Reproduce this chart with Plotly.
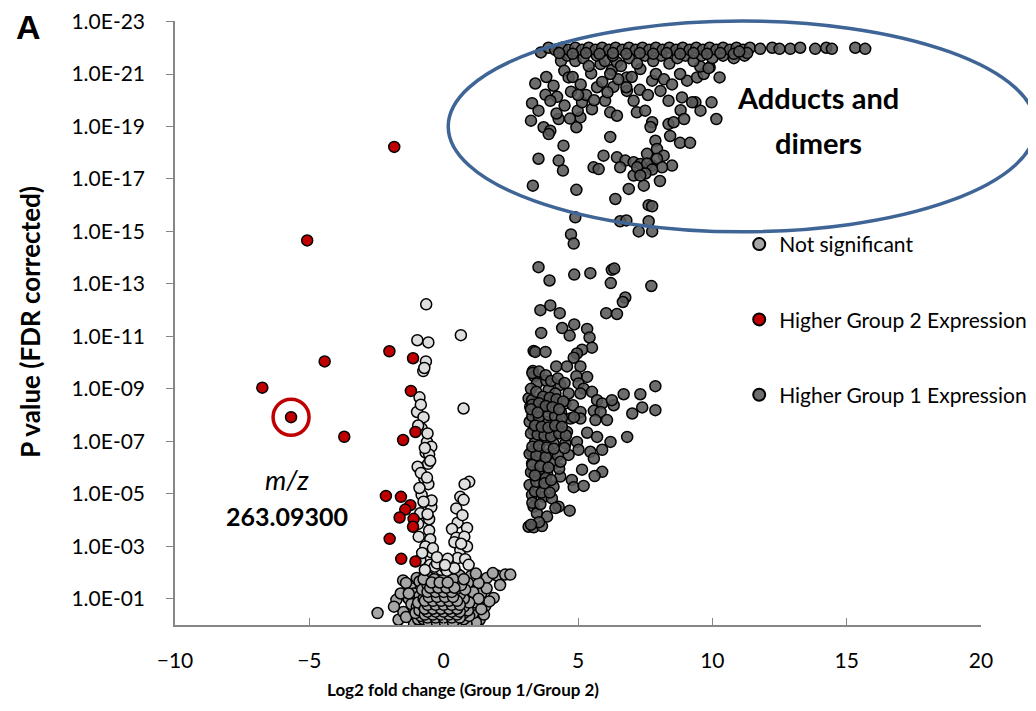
import plotly.graph_objects as go

# ---------------- data ----------------
# Higher Group 2 Expression (red)
red_x = [-1.84, -5.08, -6.75, -4.43, -5.68, -3.70, -2.15, -2.01, -2.02, -1.14, -1.22,
         -1.05, -1.51, -1.59, -1.24, -1.43, -1.64, -1.12, -1.14, -1.58, -1.05]
red_p = [6e-19, 2.2e-15, 9e-10, 9e-11, 1.2e-8, 6.7e-8, 1.2e-5, 5.2e-4, 3.7e-11, 6.8e-11, 1.2e-9,
         4.4e-8, 8.9e-8, 1.3e-5, 2.7e-5, 4e-5, 8e-5, 9e-5, 1.8e-4, 3e-3, 3.8e-3]

# Not significant, p < 0.01 (light)
light_x = [-0.65, 0.64, -0.98, -0.57, -0.66, -0.76, -0.90, 0.74, -0.99, -0.75, -0.82, -0.62,
           -0.46, -0.67, -0.54, -0.58, -0.97, -0.72, -0.57, -0.82, 0.95, 0.78, 0.62, 0.74,
           0.47, -0.46, -0.87, -0.54, 0.52, 0.87, 0.31, -0.54, 0.47, 0.77, -0.50, -0.93,
           -0.68, 0.62, 0.87, -0.46, -0.13, 0.25, 0.52, 0.80, -0.87, -0.50, -0.09, 0.25,
           0.93, -0.33, 0.05, -0.25, 0.12, -0.70, 0.40,
           -0.72, -0.85, -0.95, -0.60, -0.70, -0.50, -0.85, -0.62, -0.90, -0.45, -0.75, -0.60,
           -0.95, -0.40, -0.80, 0.70, 0.40, 0.65, 0.15, -0.25, 0.05]
light_p = [6e-13, 9e-12, 1.4e-11, 1.7e-11, 9e-11, 2.1e-10, 2.1e-9, 5.6e-9, 7.6e-9, 1.2e-8,
           3.2e-8, 1.05e-7, 1.6e-7, 2.7e-7, 3.2e-7, 7.2e-7, 9.3e-7, 2.6e-6, 4.3e-6, 1.1e-5,
           3.5e-6, 4.3e-6, 1.3e-5, 1.7e-5, 3.6e-5, 3.2e-5, 5.5e-5, 9.3e-5, 1.26e-4, 2e-4,
           2.2e-4, 2.5e-4, 4.7e-4, 4.3e-4, 5.4e-4, 4.3e-4, 1.02e-3, 1.4e-3, 1.02e-3, 1.7e-3,
           3.8e-3, 4.2e-3, 2.8e-3, 3.1e-3, 3.3e-3, 5.1e-3, 7.9e-3, 7.4e-3, 5.1e-3, 6e-3,
           6.5e-3, 4.5e-3, 8.5e-3, 8e-3, 6.8e-3,
           1.6e-10, 4e-9, 2.5e-8, 5e-8, 1.8e-7, 5.5e-7, 1.6e-6, 2.4e-6, 6e-6, 1.8e-5, 2e-5, 6e-5,
           1.4e-4, 1.2e-3, 1.8e-3, 6.5e-5, 7e-4, 8e-4, 3e-3, 2.6e-3, 5.2e-3]

# Not significant, p > 0.01 (grey)
grey_x = [1.61, 1.98, 2.29, 2.48, 1.83, -1.51, -1.76, -2.46, -1.68, -1.33, 1.86, 1.55, 1.34,
          -1.2, -1.0, -0.8, -0.6, -0.4, -0.2, 0.0, 0.2, 0.4, 0.6, 0.8, 1.0, 1.2,
          -1.1, -0.9, -0.7, -0.5, -0.3, -0.1, 0.1, 0.3, 0.5, 0.7, 0.9, 1.1, 1.3,
          -1.3, -1.0, -0.8, -0.6, -0.4, -0.2, 0.0, 0.2, 0.4, 0.6, 0.8, 1.0, 1.4, 1.6,
          -1.2, -0.9, -0.7, -0.5, -0.3, -0.1, 0.1, 0.3, 0.5, 0.7, 0.9, 1.1, 1.3,
          -1.0, -0.8, -0.6, -0.4, -0.2, 0.0, 0.2, 0.4, 0.6, 0.8, 1.0, 1.2,
          -0.7, -0.5, -0.3, -0.1, 0.1, 0.3, 0.5,
          -1.5, -1.4, 1.5, 1.7, -1.6, -0.9, -0.5, 0.3, 0.9, 2.1, 1.2, -1.85,
          -1.1, -0.9, -0.7, -0.5, -0.3, -0.1, 0.1, 0.3, 0.5, 0.7, 0.9, 1.1,
          -1.2, -1.0, -0.8, -0.6, -0.4, -0.2, 0.0, 0.2, 0.4, 0.6, 0.8, 1.0, 1.2,
          -1.1, -0.9, -0.7, -0.5, -0.3, -0.1, 0.1, 0.3, 0.5, 0.7, 0.9, 1.1,
          -0.9, -0.7, -0.5, -0.3, -0.1, 0.1, 0.3, 0.5, 0.7, 0.9,
          -0.6, -0.4, -0.2, 0.0, 0.2, 0.4, 0.6,
          -1.4, 1.4, -1.3, 1.3, -0.05, 0.45, -0.45, 0.85, -0.85,
          -0.65, -0.35, -0.05, 0.25, 0.55,
          -0.95, -0.75, -0.45, -0.15, 0.15, 0.45, 0.75,
          -0.85, -0.55, -0.25, 0.05, 0.35, 0.65, 0.95,
          -1.05, -0.75, -0.45, -0.15, 0.15, 0.45, 0.75,
          -0.9, -0.6, -0.3, 0.0, 0.3, 0.6, 0.9,
          -0.75, -0.45, -0.15, 0.15, 0.45, 0.75,
          -0.95, -0.6, -0.3, 0.0, 0.3, 0.6, 0.95,
          -0.75, -0.45, -0.15, 0.15, 0.45, 0.75,
          -0.6, -0.3, 0.0, 0.3, 0.6,
          -0.8, -0.45, -0.15, 0.15, 0.45, 0.8,
          -0.6, -0.25, 0.05, 0.35, 0.65,
          -0.75, -0.35, 0.0, 0.35, 0.75,
          -0.55, -0.25, 0.05, 0.35,
          -0.6, -0.3, 0.0, 0.3, 0.6,
          -0.7, -0.4, -0.1, 0.2, 0.5,
          -0.6, -0.3, 0.0, 0.3, 0.6,
          -0.7, -0.4, -0.1, 0.2, 0.5,
          -0.6, -0.3, 0.0, 0.3, 0.6,
          -0.7, -0.4, -0.1, 0.2, 0.5,
          -0.55, -0.25, 0.05, 0.35,
          -0.6, -0.3, 0.0, 0.3,
          -0.5, -0.2, 0.1, 0.4,
          -0.45, -0.15, 0.15]
grey_p = [0.016, 0.013, 0.012, 0.012, 0.0105, 0.02, 0.11, 0.35, 0.63, 0.093, 0.093, 0.19, 0.63,
          0.5, 0.8, 0.89, 0.95, 0.89, 0.93, 0.95, 0.91, 0.93, 0.87, 0.8, 0.71, 0.5,
          0.25, 0.4, 0.5, 0.56, 0.63, 0.71, 0.63, 0.56, 0.5, 0.45, 0.32, 0.25, 0.16,
          0.1, 0.126, 0.2, 0.25, 0.32, 0.35, 0.4, 0.32, 0.25, 0.2, 0.16, 0.126, 0.063, 0.04,
          0.04, 0.05, 0.079, 0.1, 0.126, 0.16, 0.14, 0.1, 0.079, 0.063, 0.05, 0.032, 0.025,
          0.016, 0.025, 0.032, 0.04, 0.05, 0.063, 0.045, 0.032, 0.022, 0.018, 0.014, 0.011,
          0.0126, 0.016, 0.02, 0.025, 0.02, 0.014, 0.011,
          0.32, 0.025, 0.4, 0.126, 0.063, 0.76, 0.79, 0.79, 0.63, 0.03, 0.8, 0.2,
          0.9, 0.7, 0.63, 0.71, 0.79, 0.85, 0.89, 0.71, 0.63, 0.56, 0.45, 0.35,
          0.16, 0.2, 0.28, 0.4, 0.45, 0.5, 0.56, 0.45, 0.4, 0.32, 0.25, 0.2, 0.14,
          0.063, 0.079, 0.126, 0.16, 0.22, 0.25, 0.28, 0.2, 0.16, 0.1, 0.079, 0.056,
          0.022, 0.032, 0.05, 0.063, 0.079, 0.1, 0.063, 0.045, 0.032, 0.025,
          0.014, 0.02, 0.028, 0.032, 0.025, 0.018, 0.013,
          0.5, 0.25, 0.063, 0.1, 0.95, 0.95, 0.97, 0.9, 0.95,
          0.7, 0.7, 0.7, 0.7, 0.7,
          0.6, 0.6, 0.6, 0.6, 0.6, 0.6, 0.6,
          0.45, 0.45, 0.45, 0.45, 0.45, 0.45, 0.45,
          0.35, 0.35, 0.35, 0.35, 0.35, 0.35, 0.35,
          0.28, 0.28, 0.28, 0.28, 0.28, 0.28, 0.28,
          0.2, 0.2, 0.2, 0.2, 0.2, 0.2,
          0.14, 0.14, 0.14, 0.14, 0.14, 0.14, 0.14,
          0.1, 0.1, 0.1, 0.1, 0.1, 0.1,
          0.07, 0.07, 0.07, 0.07, 0.07,
          0.045, 0.045, 0.045, 0.045, 0.045, 0.045,
          0.03, 0.03, 0.03, 0.03, 0.03,
          0.018, 0.018, 0.018, 0.018, 0.018,
          0.8, 0.8, 0.8, 0.8,
          0.52, 0.52, 0.52, 0.52, 0.52,
          0.4, 0.4, 0.4, 0.4, 0.4,
          0.31, 0.31, 0.31, 0.31, 0.31,
          0.24, 0.24, 0.24, 0.24, 0.24,
          0.17, 0.17, 0.17, 0.17, 0.17,
          0.12, 0.12, 0.12, 0.12, 0.12,
          0.085, 0.085, 0.085, 0.085,
          0.055, 0.055, 0.055, 0.055,
          0.038, 0.038, 0.038, 0.038,
          0.024, 0.024, 0.024]

# Higher Group 1 Expression (dark)
dark_x = [
    # lower column
    3.53, 3.94, 4.86, 5.46, 6.26, 6.35, 6.22, 7.73, 6.76, 6.67, 6.05, 6.45, 3.60, 3.97, 4.32,
    3.63, 4.41, 4.69, 4.86, 5.34, 5.43, 5.52, 3.35, 3.41, 3.79, 5.15, 4.96, 4.84, 4.19, 4.59,
    5.09, 3.32, 3.37, 5.34, 4.94, 3.47, 3.82, 4.34, 5.02, 5.21, 3.91, 4.16, 4.65, 5.09, 5.52,
    6.70, 7.32, 7.88, 3.16, 3.29, 3.66, 4.09, 4.53, 4.81, 5.71, 5.90, 6.33, 6.26, 3.22, 3.60,
    3.97, 4.37, 5.09, 5.59, 5.84, 7.02, 7.39, 7.88, 3.20, 3.47, 3.85, 4.28, 4.72, 5.09, 5.65,
    6.08, 3.35, 3.79, 4.16, 4.59, 5.34, 5.71, 6.83, 6.21, 3.41, 3.72, 4.09, 4.53, 4.96, 3.29,
    3.60, 3.97, 4.65, 5.02, 5.46, 5.90, 5.59, 3.29, 3.66, 4.09, 5.15, 5.90, 5.62, 3.35, 3.85,
    4.34, 4.77, 3.20, 3.72, 4.09, 4.84, 5.21, 3.29, 3.72, 4.03, 4.28, 3.35, 3.47, 4.16, 4.69,
    3.16, 3.35, 3.66, 3.85,
    3.25, 3.45, 3.70, 3.95, 4.20, 4.45, 3.30, 3.55, 3.90, 4.15, 4.40, 4.85, 3.25, 3.50, 3.75,
    4.00, 4.30, 4.55, 3.20, 3.45, 3.80, 4.25, 4.50, 3.25, 3.55, 3.80, 4.30, 3.40, 3.65, 3.95,
    3.30, 3.60, 3.55, 3.25,
    3.30, 3.55, 3.80, 4.05, 4.30, 3.40, 3.65, 3.90, 4.15, 4.40, 3.30, 3.55, 3.85, 4.10, 4.35,
    3.30, 3.60, 3.90, 3.45, 3.75, 4.00, 3.40, 3.25, 3.50, 3.30, 3.55, 3.80, 4.00, 4.25, 4.50,
    # upper cluster
    3.62, 4.37, 4.49, 4.65, 3.82, 3.41, 4.09, 4.74, 3.79, 4.22, 3.97, 3.29, 3.53, 3.25, 4.28,
    3.72, 3.97, 3.91, 4.94, 5.09, 4.99, 5.15, 5.52, 5.71, 5.49, 5.84, 6.26, 6.45, 6.01, 6.20,
    6.45, 6.32, 6.82, 7.07, 7.19, 7.50, 6.82, 7.32, 7.76, 8.07, 8.37, 8.87, 9.37, 9.56, 8.37,
    8.56, 10.15, 9.90, 9.06, 9.43, 9.68, 6.20, 5.95, 4.46, 4.28, 4.44, 3.53, 5.58, 5.77, 6.45,
    6.76, 6.57, 7.07, 7.32, 7.57, 7.88, 7.94, 8.19, 8.50, 7.76, 7.07, 3.32, 4.94, 6.39, 6.89,
    7.45, 8.05, 7.63, 7.63, 6.57, 6.80, 4.90, 4.74, 4.84,
    9.55, 9.86, 10.27, 9.97, 9.25, 8.82, 8.95, 7.76, 7.70, 8.43, 8.80, 9.17, 7.94, 7.57, 7.20,
    8.13, 7.76, 7.51, 7.76, 7.76, 7.32, 7.26,
    # dense upper band
    4.6, 4.9, 5.2, 5.4, 5.7, 6.0, 6.3, 6.6, 6.9, 7.2, 7.5, 7.8, 8.1, 8.4, 8.7, 9.0, 9.3, 9.6,
    10.0, 10.4, 10.8, 11.2,
    4.8, 5.1, 5.3, 5.6, 5.9, 6.1, 6.5, 6.8, 7.0, 7.3, 7.6, 7.9, 8.2, 8.5, 8.8, 6.2, 5.0, 4.5,
    4.2, 4.7,
    # top row
    3.9, 4.15, 4.4, 4.65, 4.9, 5.15, 5.4, 5.65, 5.9, 6.15, 6.4, 6.65, 6.9, 7.15, 7.4, 7.65,
    7.9, 8.15, 8.4, 8.65, 8.9, 9.15, 9.4, 9.65, 9.9, 10.15, 10.4, 10.65, 10.9, 11.15, 11.4,
    11.78, 12.23, 12.9, 13.27, 13.83, 14.24, 14.45, 15.32, 15.69, 12.5,
    4.3, 4.8, 5.3, 5.8, 6.3, 6.8, 7.3, 7.8, 8.3, 8.8, 9.3, 9.8, 10.3, 10.8, 11.3, 11.0,
]
dark_p = [
    # lower column
    2.3e-14, 7.4e-14, 4.4e-14, 3.9e-14, 2.9e-14, 2.6e-14, 9.3e-14, 1.2e-13, 3.3e-13, 4.9e-13,
    1.3e-12, 1.4e-12, 1e-12, 6.6e-13, 1.3e-12, 7.4e-12, 4.8e-12, 9.3e-12, 3.5e-12, 5.2e-12,
    1.1e-11, 2.7e-11, 3.6e-11, 3.9e-11, 3.9e-11, 3.2e-11, 4.5e-11, 6.5e-11, 1.4e-10, 1.4e-10,
    1.4e-10, 2.1e-10, 3.3e-10, 3.5e-10, 3.3e-10, 6.2e-10, 4.9e-10, 7.1e-10, 6.2e-10, 9.8e-10,
    1.1e-9, 1.5e-9, 1.5e-9, 1.5e-9, 1.3e-9, 1.6e-9, 1.6e-9, 7.9e-10, 2.3e-9, 2.7e-9, 2.7e-9,
    3.2e-9, 3.6e-9, 4.2e-9, 2.7e-9, 3.6e-9, 4.2e-9, 2.7e-9, 4.8e-9, 6e-9, 5.6e-9, 8.1e-9,
    7.6e-9, 6.9e-9, 7.6e-9, 8.7e-9, 5.1e-9, 6.5e-9, 1.8e-8, 2.1e-8, 1.8e-8, 2.1e-8, 1.35e-8,
    1.35e-8, 1.55e-8, 1.55e-8, 3.7e-8, 4.4e-8, 4.7e-8, 4.4e-8, 4.7e-8, 6.8e-8, 6.8e-8, 1.05e-7,
    1.05e-7, 8.9e-8, 1.2e-7, 1.2e-7, 1.05e-7, 2.5e-7, 2.9e-7, 2.9e-7, 3.3e-7, 2.1e-7, 2.5e-7,
    2.1e-7, 4.5e-7, 6.9e-7, 6.9e-7, 6.9e-7, 1.2e-6, 1.45e-6, 2.1e-6, 1.45e-6, 1.66e-6, 2.2e-6,
    2.95e-6, 4.6e-6, 4e-6, 5.4e-6, 5.6e-6, 5e-6, 1.1e-5, 1.3e-5, 1.5e-5, 3.1e-5, 3.1e-5,
    5.5e-5, 3.5e-5, 4.4e-5, 1.8e-4, 1.9e-4, 1.7e-4, 7.4e-5,
    1e-9, 1.3e-9, 2e-9, 2.2e-9, 2.5e-9, 3e-9, 1.1e-8, 1.2e-8, 1e-8, 1.1e-8, 1.3e-8, 1.2e-8,
    5e-8, 5.5e-8, 6e-8, 6.5e-8, 5e-8, 6e-8, 3e-7, 3.5e-7, 4e-7, 3.5e-7, 1.8e-7, 1.5e-6,
    1.8e-6, 2.5e-6, 1.1e-6, 8e-6, 9e-6, 9e-6, 2.2e-5, 2.5e-5, 1.2e-4, 1.5e-4,
    4e-9, 3.5e-9, 4.5e-9, 5e-9, 6e-9, 2.5e-8, 2.8e-8, 3e-8, 2.5e-8, 2.8e-8, 1.6e-7, 1.5e-7,
    1.7e-7, 1.9e-7, 6e-7, 8e-7, 9e-7, 1e-6, 3.5e-6, 4e-6, 3e-6, 2e-6, 6e-9, 8e-9, 2.5e-10,
    2.2e-10, 3e-10, 5e-10, 4e-10, 6e-10,
    # upper cluster
    1.5e-22, 3.2e-22, 7.6e-22, 1.35e-21, 1.3e-21, 2.3e-21, 2.8e-21, 4.7e-21, 6.2e-21, 7.4e-21,
    1.05e-20, 1.3e-20, 2.5e-20, 6e-20, 5.2e-20, 1.07e-19, 1.45e-19, 1.95e-19, 1.07e-19, 4.5e-20,
    2.5e-20, 1.2e-20, 2.2e-20, 3.2e-21, 9.5e-22, 4.2e-22, 7.1e-22, 3.6e-22, 1.05e-20, 2.9e-20,
    3.9e-20, 3.1e-21, 4.4e-21, 1.05e-20, 2.9e-20, 2.5e-20, 1.35e-21, 6.5e-22, 1.8e-21, 4.4e-21,
    1.05e-20, 7.8e-21, 1.2e-20, 2.5e-20, 8.1e-20, 6.9e-20, 5.2e-20, 5.6e-22, 1.8e-21, 1.35e-21,
    1e-21, 2.5e-19, 1.3e-18, 5.4e-19, 2e-18, 4.8e-18, 1.7e-18, 3.6e-18, 4.2e-18, 1.5e-18,
    2e-18, 3.6e-18, 2.3e-18, 2.7e-18, 1.1e-18, 3.5e-19, 7.2e-19, 1.3e-18, 3.1e-18, 3.1e-18,
    7.4e-18, 1.8e-17, 2.6e-17, 5.8e-17, 2.4e-17, 1.8e-17, 1.2e-17, 1e-16, 4.1e-16, 4.1e-16,
    3.8e-16, 2.9e-16, 1.3e-15, 2.9e-15,
    5.2e-22, 6e-22, 1.35e-21, 1.2e-20, 1.2e-20, 2.4e-20, 5.2e-20, 6.9e-20, 1.05e-19, 2.3e-19,
    4.2e-19, 4.2e-19, 1.7e-18, 2.6e-18, 3.6e-18, 3.6e-18, 4.4e-18, 6.2e-18, 1.1e-16, 1e-15,
    7.4e-18, 1e-15,
    # dense upper band
    2e-22, 3.2e-22, 2.5e-22, 5e-22, 2e-22, 3.2e-22, 2e-22, 5e-22, 2.5e-22, 4e-22, 2e-22,
    3.2e-22, 2e-22, 4e-22, 2.5e-22, 2e-22, 3.2e-22, 2e-22, 2.5e-22, 2e-22, 2.5e-22, 2e-22,
    1.3e-21, 2.5e-21, 6.3e-21, 1e-20, 2e-21, 5e-21, 1.6e-21, 3.2e-21, 1.3e-21, 4e-21, 6.3e-21,
    1e-21, 1.6e-21, 2.5e-21, 1e-21, 1e-21, 6.3e-21, 1.6e-20, 3.2e-20, 5e-20,
    # top row
    1e-22, 1.2e-22, 1e-22, 1.2e-22, 1e-22, 1.2e-22, 1e-22, 1.2e-22, 1e-22, 1.2e-22, 1e-22,
    1.2e-22, 1e-22, 1.2e-22, 1e-22, 1.2e-22, 1e-22, 1.2e-22, 1e-22, 1.2e-22, 1e-22, 1.2e-22,
    1e-22, 1.2e-22, 1e-22, 1.2e-22, 1e-22, 1.2e-22, 1e-22, 1.2e-22, 1e-22,
    1.1e-22, 1e-22, 1.1e-22, 1e-22, 1.1e-22, 1e-22, 1.1e-22, 1e-22, 1.1e-22, 1.1e-22,
    1.6e-22, 1.7e-22, 1.6e-22, 1.7e-22, 1.6e-22, 1.7e-22, 1.6e-22, 1.7e-22, 1.6e-22, 1.7e-22,
    1.6e-22, 1.7e-22, 1.6e-22, 1.7e-22, 1.6e-22, 1.4e-22,
]

x_ticks = [-10, -5, 0, 5, 10, 15, 20]
y_tickvals = [1e-1, 1e-3, 1e-5, 1e-7, 1e-9, 1e-11, 1e-13, 1e-15, 1e-17, 1e-19, 1e-21, 1e-23]
y_ticktext = ["1.0E-01", "1.0E-03", "1.0E-05", "1.0E-07", "1.0E-09", "1.0E-11",
              "1.0E-13", "1.0E-15", "1.0E-17", "1.0E-19", "1.0E-21", "1.0E-23"]

# highlighted feature (m/z 263.09300)
highlight_x = [-5.68]
highlight_p = [1.2e-8]

# ---------------- figure ----------------
FONT = "Lato"
line_blk = dict(color="black", width=1.5)

fig = go.Figure()
fig.add_trace(go.Scatter(x=grey_x, y=grey_p, mode="markers", name="Not significant",
                         legendgroup="a",
                         marker=dict(size=11, color="#A6A6A6", line=line_blk)))
fig.add_trace(go.Scatter(x=light_x, y=light_p, mode="markers", name="Not significant (p<0.01)",
                         showlegend=False, legendgroup="a",
                         marker=dict(size=11, color="#DEDEDE", line=line_blk)))
fig.add_trace(go.Scatter(x=red_x, y=red_p, mode="markers", name="Higher Group 2 Expression",
                         legendgroup="b",
                         marker=dict(size=11, color="#C00000", line=line_blk)))
fig.add_trace(go.Scatter(x=dark_x, y=dark_p, mode="markers", name="Higher Group 1 Expression",
                         legendgroup="c",
                         marker=dict(size=11, color="rgba(89,89,89,0.88)", line=line_blk)))
# red ring round the highlighted feature
fig.add_trace(go.Scatter(x=highlight_x, y=highlight_p, mode="markers", showlegend=False,
                         hoverinfo="skip",
                         marker=dict(size=36, symbol="circle-open", color="#C00000",
                                     line=dict(color="#C00000", width=3.5))))

# blue ellipse round the adduct cluster
fig.add_shape(type="circle", xref="paper", yref="paper",
              x0=0.339, x1=1.068, y0=0.651, y1=1.0,
              line=dict(color="#3F6596", width=3.5))

fig.update_layout(
    width=1036, height=711,
    margin=dict(l=167, r=63, t=13, b=94, autoexpand=False),
    paper_bgcolor="white", plot_bgcolor="white",
    font=dict(family=FONT, size=18, color="black"),
    showlegend=True,
    legend=dict(x=0.700, y=0.664, xanchor="left", yanchor="top",
                bgcolor="rgba(0,0,0,0)", font=dict(size=21, family=FONT),
                tracegroupgap=45, itemsizing="constant",
                traceorder="grouped"),
    xaxis=dict(range=[-10, 20], tickvals=x_ticks, ticks="inside", ticklen=7,
               tickcolor="#868686", showline=True, linecolor="#868686", linewidth=1.5,
               showgrid=False, zeroline=False, ticklabelstandoff=16, automargin=False,
               tickfont=dict(size=21, family=FONT)),
    yaxis=dict(type="log", range=[0.0, -23.02], tickvals=y_tickvals, ticktext=y_ticktext,
               ticks="outside", ticklen=7, tickcolor="#868686", showline=True,
               linecolor="#868686", linewidth=1.5, showgrid=False, zeroline=False,
               ticklabelstandoff=17, ticklabeloverflow="allow", automargin=False,
               tickfont=dict(size=21, family=FONT)),
)

ann = dict(xref="paper", yref="paper", showarrow=False, xanchor="center", yanchor="middle")
fig.add_annotation(text="<b>P value (FDR corrected)</b>", x=-0.180, y=0.502, textangle=-90,
                   font=dict(size=26, family=FONT), **ann)
fig.add_annotation(text="<b>Log2 fold change (Group 1/Group 2)</b>", x=0.357, y=-0.107,
                   font=dict(size=17, family=FONT), **ann)
fig.add_annotation(text="<b>A</b>", x=-0.182, y=0.990,
                   font=dict(size=34, family="Liberation Sans"), **ann)
fig.add_annotation(text="<i>m/z</i>", x=0.139, y=0.2406,
                   font=dict(size=27, family=FONT), **ann)
fig.add_annotation(text="<b>263.09300</b>", x=0.139, y=0.181,
                   font=dict(size=25, family=FONT), **ann)
fig.add_annotation(text="<b>Adducts and</b>", x=0.798, y=0.873,
                   font=dict(size=29, family=FONT), **ann)
fig.add_annotation(text="<b>dimers</b>", x=0.798, y=0.7985,
                   font=dict(size=29, family=FONT), **ann)

fig.write_html("out.html")
